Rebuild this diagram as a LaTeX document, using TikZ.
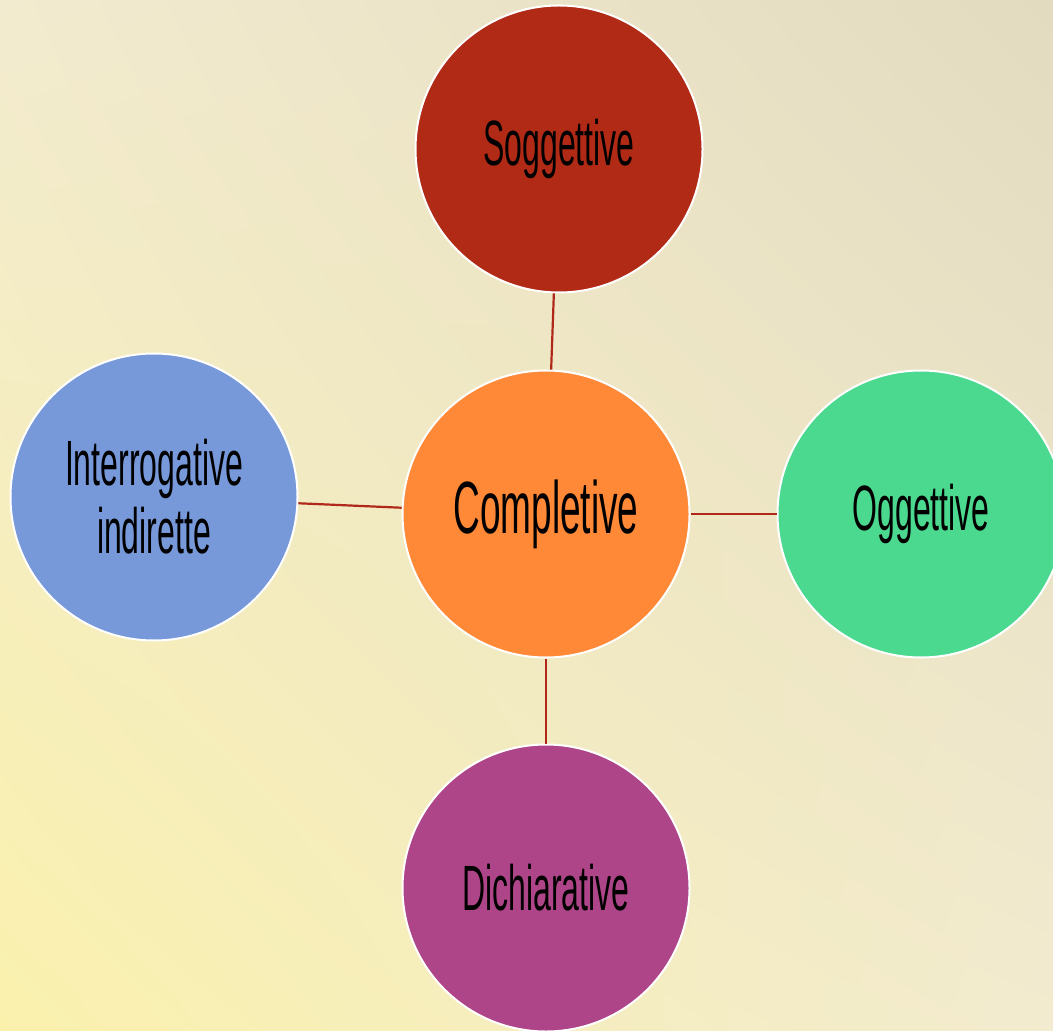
\documentclass[tikz,border=0pt]{standalone}
\usepackage{fontspec}
\usetikzlibrary{shadings}
\newfontfamily\hand[FakeStretch=0.5]{Liberation Sans}
\definecolor{bgA}{HTML}{E3DBC0}
\definecolor{bgB}{HTML}{F2EBCF}
\definecolor{bgC}{HTML}{FAF1AD}
\definecolor{cSog}{HTML}{B12A16}
\definecolor{cCom}{HTML}{FF8937}
\definecolor{cInt}{HTML}{7799DA}
\definecolor{cOgg}{HTML}{4BD98F}
\definecolor{cDic}{HTML}{AE4588}
\definecolor{link}{HTML}{B0281A}
\tikzset{
  bubble/.style={circle, draw=white, line width=1pt, minimum size=143.5pt, inner sep=0pt,
    align=center, text=black, font=\hand\fontsize{32}{34}\selectfont},
  big/.style={font=\hand\fontsize{37}{40}\selectfont},
  conn/.style={draw=link, line width=1.1pt},
}
\begin{document}
\begin{tikzpicture}[x=0.5pt,y=-0.5pt]
\useasboundingbox (0,0) rectangle (1053,1031);
\clip (0,0) rectangle (1053,1031);
\shade[upper right=bgA, upper left=bgB, lower right=bgB, lower left=bgC] (0,0) rectangle (1053,1031);
\node[bubble, fill=cSog] (sog) at (559,149) {Soggettive};
\node[bubble, fill=cCom, big] (com) at (546,514) {Completive};
\node[bubble, fill=cInt] (int) at (154,497) {Interrogative\\indirette};
\node[bubble, fill=cOgg] (ogg) at (921,514) {Oggettive};
\node[bubble, fill=cDic] (dic) at (546,888) {Dichiarative};
\draw[conn] (com) -- (sog);
\draw[conn] (com) -- (int);
\draw[conn] (com) -- (ogg);
\draw[conn] (com) -- (dic);
\end{tikzpicture}
\end{document}
